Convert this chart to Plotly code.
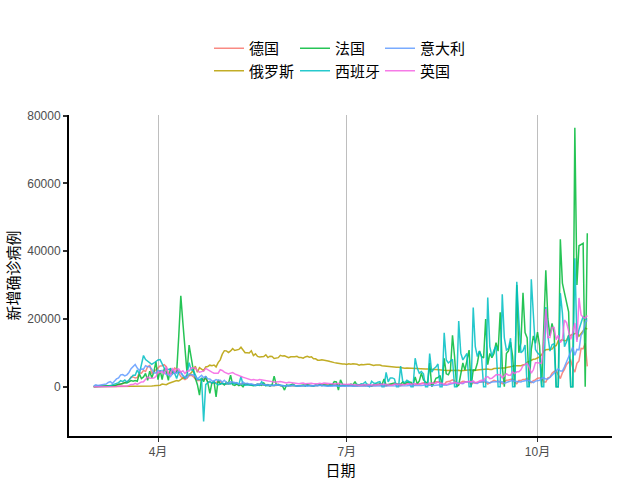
import pandas as pd
import plotly.graph_objects as go

# Daily new cases, 2020-03-01 .. 2020-10-25 (rows = weeks starting Sunday)
dates = pd.date_range("2020-03-01", periods=239, freq="D").strftime("%Y-%m-%d").tolist()

germany = [
    0, 40, 50, 40, 60, 100, 150,
    200, 150, 300, 250, 450, 800, 700,
    1000, 1200, 1400, 1900, 2900, 2900, 2600,
    2700, 4100, 4000, 4800, 4500, 5900, 6300,
    4000, 4400, 4900, 5500, 6100, 6200, 6500,
    5900, 3700, 3800, 4000, 5500, 5200, 4100,
    3000, 2500, 2100, 2500, 3200, 3400, 3000,
    2300, 1800, 1800, 2200, 2300, 2300, 1500,
    1300, 1000, 1100, 1300, 1500, 1600, 900,
    700, 700, 900, 1100, 1200, 1200, 700,
    600, 900, 930, 800, 900, 620, 600,
    580, 340, 500, 800, 750, 460, 640,
    430, 290, 430, 350, 350, 740, 300,
    290, 280, 340, 370, 400, 370, 400,
    300, 200, 350, 270, 550, 580, 400,
    250, 190, 300, 350, 580, 770, 600,
    690, 500, 500, 590, 630, 480, 690,
    260, 300, 440, 470, 500, 420, 420,
    240, 270, 400, 400, 440, 440, 380,
    160, 160, 400, 350, 530, 580, 580,
    250, 200, 450, 580, 570, 800, 780,
    300, 300, 630, 680, 900, 870, 950,
    240, 500, 880, 740, 1050, 1150, 1100,
    560, 440, 960, 1230, 1440, 1450, 1400,
    630, 560, 1400, 1510, 1700, 2000, 1700,
    770, 700, 1250, 1570, 1500, 1570, 1480,
    600, 1200, 1200, 1300, 1250, 1450, 1370,
    1380, 800, 1040, 1500, 1900, 1600, 1600,
    1400, 900, 1400, 1900, 2000, 2190, 2300,
    1350, 900, 1800, 1800, 2150, 2150, 2500,
    1400, 1200, 1800, 2000, 2500, 2600, 2600,
    1400, 1400, 2600, 2800, 4000, 4500, 4700,
    3500, 2400, 4100, 5100, 6600, 7300, 7800,
    5600, 4300, 6900, 7600, 11300, 11200, 12800,
    6000,
]

russia = [
    0, 1, 0, 0, 1, 0, 4,
    0, 3, 0, 8, 7, 6, 14,
    4, 29, 33, 21, 52, 52, 54,
    53, 57, 71, 57, 163, 182, 196,
    228, 270, 302, 500, 440, 770, 600,
    580, 950, 1150, 1170, 1460, 1790, 1670,
    2190, 2560, 2770, 3390, 3450, 4070, 4790,
    6060, 4270, 5640, 5230, 4770, 5850, 5970,
    6360, 6200, 6400, 5840, 7100, 7930, 9620,
    10630, 10580, 10100, 10560, 11230, 10700, 10820,
    11010, 11660, 10900, 10030, 10030, 9970, 10600,
    9200, 9710, 8930, 8760, 8850, 8890, 9430,
    8600, 9000, 8930, 8340, 8370, 8570, 9270,
    9040, 9150, 8860, 8540, 8830, 8730, 8850,
    8980, 8600, 8590, 8400, 8780, 8990, 8710,
    8840, 8250, 8250, 7840, 7790, 7970, 7890,
    7890, 7600, 7420, 7180, 7110, 7030, 6850,
    6790, 6690, 6720, 6560, 6760, 6630, 6740,
    6740, 6610, 6370, 6560, 6510, 6630, 6610,
    6610, 6540, 6250, 6420, 6430, 6410, 6170,
    6110, 6090, 5840, 5860, 5810, 5870, 5770,
    5760, 5630, 5390, 5470, 5510, 5480, 5460,
    5430, 5390, 5160, 5200, 5200, 5240, 5210,
    5240, 5120, 5100, 5100, 5060, 5060, 5080,
    5060, 4890, 4750, 4790, 4830, 4870, 4920,
    4850, 4850, 4680, 4740, 4710, 4830, 4990,
    4980, 4730, 4730, 4950, 5010, 5110, 5200,
    5200, 5200, 5100, 5100, 5360, 5450, 5400,
    5450, 5510, 5500, 5670, 5900, 5900, 6060,
    6150, 6140, 6200, 6200, 6400, 6600, 7200,
    7500, 7900, 8100, 8200, 8500, 8800, 9400,
    10500, 10900, 10900, 11100, 11100, 11900, 12100,
    13600, 13600, 13900, 13500, 13700, 15100, 15200,
    15500, 15700, 15900, 14900, 15700, 16500, 17300,
    17000,
]

france = [
    30, 60, 20, 70, 100, 170, 100,
    170, 280, 190, 370, 500, 600, 800,
    920, 1200, 1100, 1400, 1800, 1600, 1800,
    1600, 3800, 2400, 2900, 3900, 1900, 4600,
    2600, 4400, 7400, 2100, 4900, 2100, 5300,
    4300, 1900, 5500, 3800, 4300, 4300, 14800,
    26800, 18800, 11400, 4000, 12300, 8000, 5000,
    2500, 600, -2500, 2600, 1500, 3100, 1200,
    -2000, 1200, 1600, -3000, 2000, 800, 1000,
    500, 1300, 1000, 3400, 600, 400, 800,
    300, 600, 0, 900, 700, 500, 400,
    300, 500, 800, 600, 400, 1100, 300,
    600, 200, 500, 3100, 700, 500, 400,
    200, -1000, 500, 300, 600, 800, 400,
    200, 300, 400, 500, 200, 600, 400,
    300, 200, 500, 400, 600, 300, 500,
    400, 300, 600, 500, 1500, 1400, -1000,
    2000, 700, 500, 600, 400, 800, 500,
    1500, 300, 500, 700, 600, 400, 700,
    500, 200, 600, 800, 700, 900, 600,
    2300, 500, 700, 800, 1000, 1100, 900,
    700, 700, 1400, 700, 1400, 1300, 1300,
    500, 2900, 800, 1700, 4000, 2000, 1400,
    1000, 7000, 0, 1000, 2500, 2700, 3300,
    400, 8400, 3800, 3500, 4800, 15200, 8900,
    0, 500, 4000, 7000, 4900, 7400, 10800,
    0, 5000, 4900, 7000, 10500, 8900, 8500,
    20000, 6500, 9800, 8600, 9800, 13000, 10500,
    22000, 6000, 0, 9800, 10600, 13200, 9000,
    0, 30000, 10000, 13000, 27700, 16000, 14400,
    0, 11000, 15000, 12800, 16100, 12100, 0,
    16900, 34400, 20000, 15000, 18700, 16000, 0,
    0, 43500, 30600, 27700, 25000, 22100, 0,
    0, 76400, 30000, 41600, 42000, 42300, 0,
    45300,
]

spain = [
    40, 30, 50, 60, 80, 100, 130,
    160, 330, 560, 600, 820, 1200, 1800,
    1500, 2000, 1400, 2000, 2800, 3400, 3400,
    4900, 3800, 6600, 9200, 8000, 7500, 7000,
    6600, 7000, 7500, 7900, 8000, 6500, 5500,
    5000, 5200, 5200, 4600, 4000, 2400, 4300,
    4300, 3500, 2400, 3600, 7100, 4900, 4900,
    3500, 2100, 2100, 2400, -10250, 600, 1200,
    1600, 1000, 1500, 900, 600, 700, 1100,
    900, 850, 1000, 800, 1100, 800, 1200,
    600, 3000, 600, 400, 500, 700, 600,
    400, 300, 500, 400, 1500, 500, 400,
    300, 500, 400, 300, 600, 500, 300,
    200, 300, 200, 400, 300, 200, 300,
    200, 300, 200, 300, 400, 300, 200,
    300, 200, 400, 300, 500, 400, 300,
    200, 300, 400, 300, 500, 400, 300,
    200, 500, 300, 400, 500, 500, 200,
    300, 700, 500, 800, 900, 1400, 300,
    0, 1600, 1100, 1000, 1300, 1500, 0,
    0, 4200, 1400, 2600, 2600, 2300, 0,
    0, 6100, 1600, 1200, 1900, 1500, 0,
    0, 8400, 5500, 4000, 4500, 3800, 0,
    0, 9800, 4300, 5300, 5800, 6700, 0,
    0, 15900, 7900, 7000, 7700, 8100, 0,
    0, 19400, 9900, 7900, 9000, 9800, 0,
    0, 23400, 11800, 8900, 10500, 8900, 0,
    0, 26300, 11800, 9000, 10800, 12000, 0,
    0, 27300, 14400, 10800, 11300, 14300, 0,
    0, 31000, 19700, 10000, 10600, 12300, 0,
    0, 31700, 21800, 11000, 10000, 9400, 0,
    0, 23500, 15000, 10500, 12400, 12700, 0,
    0, 27600, 21800, 11800, 13300, 15200, 0,
    0, 37900, 13900, 16900, 19000, 20700, 20000,
    20000,
]

italy = [
    240, 560, 350, 470, 590, 780, 780,
    1250, 1500, 980, 1800, 2300, 2600, 3500,
    3600, 3200, 3500, 4200, 5300, 5900, 6550,
    5500, 4800, 5250, 5200, 6200, 5900, 5950,
    5200, 4050, 4050, 4800, 4600, 4800, 4300,
    3600, 3600, 3000, 3800, 4200, 3950, 4700,
    4100, 3150, 2950, 2650, 3800, 3500, 3500,
    3050, 2250, 2730, 3370, 2650, 3020, 2350,
    2300, 1750, 1700, 2100, 1870, 1900, 1400,
    1900, 1200, 1100, 1450, 1400, 1300, 1100,
    800, 750, 1400, 890, 990, 790, 870,
    675, 450, 800, 660, 640, 650, 670,
    530, 300, 400, 580, 590, 520, 420,
    350, 180, 320, 320, 180, 520, 280,
    200, 200, 280, 200, 380, 160, 350,
    340, 300, 210, 330, 330, 250, 260,
    220, 220, 120, 190, 300, 260, 170,
    170, 130, 140, 190, 200, 220, 240,
    190, 120, 190, 190, 230, 280, 190,
    220, 170, 110, 160, 230, 210, 230,
    220, 130, 190, 220, 280, 300, 250,
    250, 170, 180, 210, 290, 380, 380,
    300, 240, 160, 190, 380, 400, 550,
    350, 460, 260, 410, 480, 520, 570,
    630, 480, 400, 640, 840, 950, 1070,
    1210, 1070, 950, 880, 1370, 1400, 1460,
    1440, 1370, 1000, 980, 1330, 1400, 1730,
    1690, 1300, 1100, 1370, 1430, 1600, 1620,
    1500, 1460, 1000, 1230, 1450, 1580, 1900,
    1640, 1580, 1350, 1390, 1640, 1790, 1870,
    1770, 1500, 1200, 1650, 1850, 1900, 2500,
    2600, 2250, 2250, 2700, 3400, 4000, 4500,
    5300, 4600, 4600, 5900, 7300, 8800, 10000,
    11700, 9300, 11000, 10900, 15200, 16100, 19100,
    19600,
]

uk = [
    12, 4, 11, 34, 30, 48, 43,
    67, 48, 61, 50, 90, 200, 200,
    340, 250, 150, 400, 640, 640, 1000,
    660, 970, 1400, 1450, 2100, 2900, 2500,
    2500, 2600, 3000, 4300, 4200, 4450, 3700,
    5900, 3800, 3600, 5500, 4300, 5200, 5200,
    4300, 4700, 3900, 4600, 4600, 5600, 5500,
    5500, 4700, 4300, 4450, 4600, 5400, 5000,
    4500, 4300, 3990, 4100, 4000, 5000, 4800,
    4300, 4000, 3800, 4000, 4200, 3800, 3500,
    3400, 3100, 2800, 2600, 2400, 2200, 2000,
    2100, 2000, 1900, 2100, 2000, 1900, 2000,
    1800, 1600, 1500, 1300, 1400, 1300, 1500,
    1400, 1200, 1100, 1300, 1200, 1100, 1000,
    1000, 900, 1000, 1100, 900, 1000, 1100,
    1000, 900, 800, 900, 1000, 900, 1100,
    1000, 900, 800, 900, 800, 900, 1000,
    800, 700, 600, 650, 700, 600, 600,
    500, 520, 450, 580, 630, 500, 650,
    650, 530, 600, 540, 540, 640, 700,
    700, 720, 580, 450, 460, 770, 710,
    770, 740, 580, 560, 760, 880, 750,
    740, 940, 670, 890, 950, 870, 760,
    750, 1060, 1000, 1150, 1000, 1440, 1000,
    1040, 710, 710, 810, 1180, 1030, 1290,
    1000, 850, 1050, 1200, 1200, 1500, 1600,
    1400, 1700, 1200, 1300, 1700, 1900, 1800,
    2700, 3000, 2400, 2500, 3000, 3500, 3500,
    3500, 2600, 3100, 3800, 3400, 3400, 4400,
    3900, 4400, 4400, 5000, 6200, 6600, 6900,
    5700, 4000, 5000, 7100, 7100, 6900, 7000,
    13000, 22900, 14500, 14500, 17500, 17500, 13900,
    15200, 13000, 13900, 19700, 18900, 16200, 14000,
    16000, 18800, 13200, 26200, 21200, 20500, 20200,
    21000,
]

countries = ["德国", "俄罗斯", "法国", "西班牙", "意大利", "英国"]
series = [germany, russia, france, spain, italy, uk]
colors = ["#F8766D", "#B79F00", "#00BA38", "#00BFC4", "#619CFF", "#F564E3"]
legend_ids = ["legend", "legend", "legend2", "legend2", "legend3", "legend3"]

x_ticks = ["2020-04-01", "2020-07-01", "2020-10-01"]
x_ticktext = ["4月", "7月", "10月"]
y_ticks = [0, 20000, 40000, 60000, 80000]

CJK = "Noto Sans CJK SC"
LAT = "Liberation Sans, Arial, Noto Sans CJK SC"

fig = go.Figure()
for name, vals, col, lg in zip(countries, series, colors, legend_ids):
    fig.add_trace(go.Scatter(
        x=dates, y=vals, mode="lines", name=name,
        line=dict(color=col, width=1.5), opacity=0.85, legend=lg,
    ))

leg_common = dict(
    xanchor="left", yanchor="top",
    orientation="v", bgcolor="rgba(0,0,0,0)", borderwidth=0,
    font=dict(family=CJK, size=15, color="#000000"), tracegroupgap=0,
    itemwidth=30,
)
leg_y = (436 - 32) / 321

fig.update_layout(
    width=640, height=480,
    margin=dict(l=69, r=28, t=115, b=44, autoexpand=False),
    paper_bgcolor="white", plot_bgcolor="white",
    showlegend=True,
    legend=dict(x=(209 - 69) / 543, y=leg_y, **leg_common),
    legend2=dict(x=(295 - 69) / 543, y=leg_y, **leg_common),
    legend3=dict(x=(380 - 69) / 543, y=leg_y, **leg_common),
    xaxis=dict(
        type="date",
        range=["2020-02-18 02:00:00", "2020-11-05 22:00:00"],
        tickmode="array",
        tickvals=x_ticks, ticktext=x_ticktext,
        showgrid=True, gridcolor="#BEBEBE", gridwidth=1,
        showline=True, linecolor="black", linewidth=2,
        ticks="outside", ticklen=4, tickwidth=1, tickcolor="#333333",
        tickfont=dict(family=LAT, size=12, color="#4D4D4D"),
        zeroline=False,
        title=dict(text="日期", font=dict(family=CJK, size=15, color="black"), standoff=6),
    ),
    yaxis=dict(
        range=[-14550, 80200],
        tickmode="array",
        tickvals=y_ticks, ticktext=[str(v) for v in y_ticks],
        showgrid=False, zeroline=False,
        showline=True, linecolor="black", linewidth=2,
        ticks="outside", ticklen=4, tickwidth=1.5, tickcolor="#333333",
        tickfont=dict(family=LAT, size=12, color="#4D4D4D"),
        title=dict(text="新增确诊病例", font=dict(family=CJK, size=15, color="black"), standoff=4),
    ),
)

fig.write_html("out.html")
